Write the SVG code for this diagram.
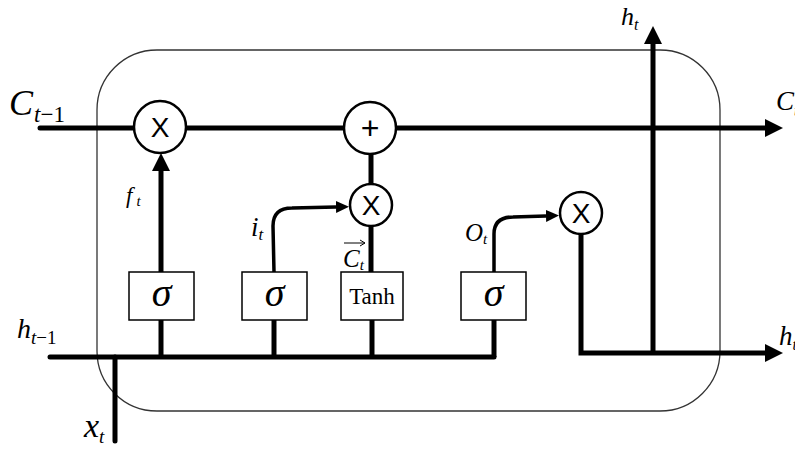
<svg xmlns="http://www.w3.org/2000/svg" width="795" height="450" viewBox="0 0 795 450">
<defs>
<marker id="big" markerUnits="userSpaceOnUse" markerWidth="20" markerHeight="20" refX="0" refY="9" orient="auto"><path d="M0,0 L18,9 L0,18 Z" fill="#000"/></marker>
<marker id="small" markerUnits="userSpaceOnUse" markerWidth="14" markerHeight="14" refX="0" refY="6" orient="auto"><path d="M0,0 L13,6 L0,12 Z" fill="#000"/></marker>
</defs>
<style>
.frame{fill:none;stroke:#333;stroke-width:1.3}
.thick{fill:none;stroke:#000;stroke-width:5;stroke-linecap:butt}
.flow{fill:none;stroke:#000;stroke-width:3.5}
.op{fill:#fff;stroke:#000;stroke-width:2.5}
.box{fill:#fff;stroke:#000;stroke-width:1.5}
.m{font-family:"Liberation Serif",serif;font-style:italic;fill:#000}
.r{font-family:"Liberation Serif",serif;fill:#000}
.s{font-family:"Liberation Sans",sans-serif;fill:#000;text-anchor:middle}
</style>
<rect class="frame" x="97" y="50" width="623" height="361" rx="60" ry="60"/>
<g id="connectors">
<line class="thick" x1="40" y1="128" x2="765" y2="128" marker-end="url(#big)" style="stroke-linecap:round"/>
<line class="thick" x1="50" y1="357" x2="494" y2="357" style="stroke-linecap:round"/>
<line class="thick" x1="115" y1="357" x2="115" y2="441" style="stroke-linecap:round"/>
<line class="thick" x1="161" y1="320" x2="161" y2="357"/>
<line class="thick" x1="274" y1="320" x2="274" y2="357"/>
<line class="thick" x1="372" y1="320" x2="372" y2="357"/>
<line class="thick" x1="494" y1="320" x2="494" y2="357"/>
<line class="thick" x1="161" y1="272" x2="161" y2="171" marker-end="url(#big)"/>
<line class="thick" x1="371" y1="153" x2="371" y2="185"/>
<line class="thick" x1="371" y1="226" x2="371" y2="272"/>
<path class="flow" d="M274,272 L273,226 Q273,208 292,208 L336,207" marker-end="url(#small)"/>
<path class="flow" d="M494,272 L494,234 Q494,217 513,217 L546,216" marker-end="url(#small)"/>
<path class="thick" d="M581,234 L581,353 L765,353" marker-end="url(#big)" style="stroke-linejoin:miter"/>
<line class="thick" x1="653" y1="353" x2="653" y2="44" marker-end="url(#big)"/>
</g>
<g id="forget-mul"><circle class="op" cx="160" cy="127" r="26"/><text class="s" x="160" y="137" font-size="28">X</text></g>
<g id="add"><circle class="op" cx="370" cy="128" r="26"/><text class="s" x="370" y="139" font-size="32">+</text></g>
<g id="input-mul"><circle class="op" cx="371" cy="205" r="21"/><text class="s" x="371" y="215" font-size="28">X</text></g>
<g id="output-mul"><circle class="op" cx="581" cy="213" r="21"/><text class="s" x="581" y="223" font-size="28">X</text></g>
<g id="sigma-f"><rect class="box" x="129" y="272" width="65" height="48"/><text class="m" x="161.5" y="306" font-size="40" text-anchor="middle">σ</text></g>
<g id="sigma-i"><rect class="box" x="242" y="272" width="65" height="48"/><text class="m" x="274.5" y="306" font-size="40" text-anchor="middle">σ</text></g>
<g id="tanh"><rect class="box" x="341" y="272" width="62" height="48"/><text class="r" x="372" y="304" font-size="23" text-anchor="middle">Tanh</text></g>
<g id="sigma-o"><rect class="box" x="461" y="272" width="65" height="48"/><text class="m" x="493.5" y="306" font-size="40" text-anchor="middle">σ</text></g>
<g id="labels">
<text class="m" x="9" y="115" font-size="36">C<tspan font-size="23" dx="1" dy="7">t</tspan><tspan font-style="normal" font-size="23">−1</tspan></text>
<text class="m" x="126" y="203" font-size="23">f<tspan font-size="15" dx="4" dy="3">t</tspan></text>
<text class="m" x="251" y="236" font-size="27">i<tspan font-size="17" dy="4">t</tspan></text>
<text class="m" x="343" y="267" font-size="25">C<tspan font-size="15" dy="3">t</tspan></text>
<line x1="344" y1="243" x2="365" y2="243" stroke="#000" stroke-width="1"/>
<path d="M360,240 L365,243 L360,246" fill="none" stroke="#000" stroke-width="1"/>
<text class="m" x="465" y="241" font-size="25">O<tspan font-size="15" dy="3">t</tspan></text>
<text class="m" x="621" y="25" font-size="26">h<tspan font-size="16" dy="5">t</tspan></text>
<text class="m" x="776" y="110" font-size="27">C<tspan font-size="16" dy="6">t</tspan></text>
<text class="m" x="17" y="338" font-size="28">h<tspan font-size="19" dy="6">t</tspan><tspan font-style="normal" font-size="19">−1</tspan></text>
<text class="m" x="779" y="345" font-size="27">h<tspan font-size="16" dy="5">t</tspan></text>
<text class="m" x="84" y="437" font-size="34">x<tspan font-size="19" dy="6">t</tspan></text>
</g>
</svg>
